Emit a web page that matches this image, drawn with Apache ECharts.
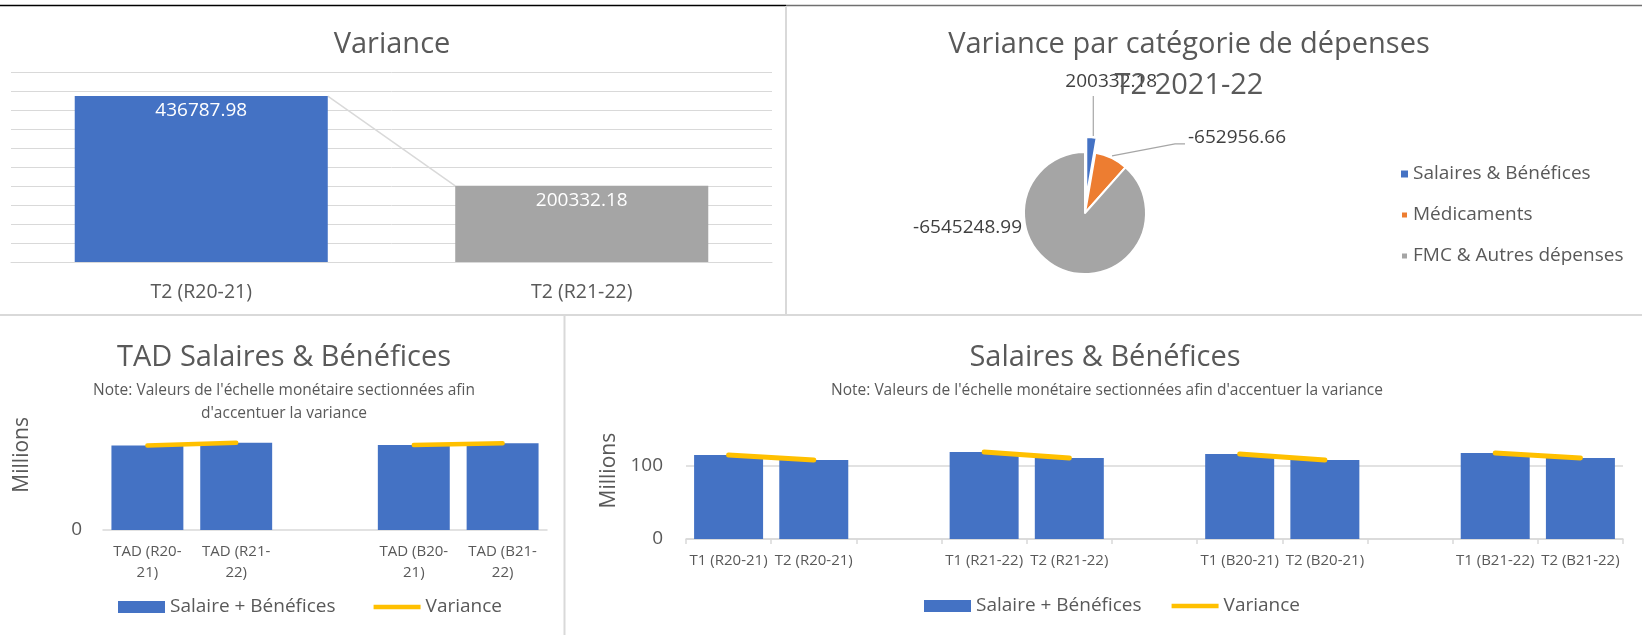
<!DOCTYPE html>
<html>
<head>
<meta charset="utf-8">
<script src="https://cdn.jsdelivr.net/npm/echarts@6/dist/echarts.min.js"></script>
<style>
  html, body { margin: 0; padding: 0; background: #fff; }
  #dash { width: 1642px; height: 635px; }
</style>
</head>
<body>
<div id="dash"></div>
<script>
// ---- Variance, T2 ----
const varianceCats = ['T2 (R20-21)', 'T2 (R21-22)'];
const varianceValues = [436787.98, 200332.18];
const varianceColors = ['#4472C4', '#A5A5A5'];

// ---- Variance by spending category, T2 2021-22 ----
const pieCats = ['Salaires & Bénéfices', 'Médicaments', 'FMC & Autres dépenses'];
const pieValues = [200332.18, -652956.66, -6545248.99];
const pieColors = ['#4472C4', '#ED7D31', '#A5A5A5'];

// ---- Year-to-date salaries & benefits (blank category splits actual / budget) ----
const tadCats = ['TAD (R20-21)', 'TAD (R21-22)', '', 'TAD (B20-21)', 'TAD (B21-22)'];
const tadSalaries = [223.3e6, 230.2e6, null, 224.6e6, 228.8e6];
const tadVariance = [223.3e6, 230.2e6, null, 224.6e6, 228.8e6];

// ---- Quarterly salaries & benefits ----
const quarterCats = ['T1 (R20-21)', 'T2 (R20-21)', '', 'T1 (R21-22)', 'T2 (R21-22)', '',
                     'T1 (B20-21)', 'T2 (B20-21)', '', 'T1 (B21-22)', 'T2 (B21-22)'];
const quarterSalaries = [115.1e6, 108.2e6, null, 119.2e6, 111.0e6, null, 116.4e6, 108.2e6, null, 117.8e6, 111.0e6];
const quarterVariance = [115.1e6, 108.2e6, null, 119.2e6, 111.0e6, null, 116.4e6, 108.2e6, null, 117.8e6, 111.0e6];

const FONT = "'Open Sans', sans-serif";
const TEXT = '#595959';
const RULE = '#d9d9d9';
const BLUE = '#4472C4';
const GOLD = '#FFC000';
const VAR_BAR_RATIO = 0.665;

// pie geometry: slices sized by magnitude, first slice pulled out of the pie
const PIE_CENTER = [1085, 213];
const PIE_RADIUS = 61;
const PIE_EXPLODE = 15;
const pieSizes = pieValues.map(v => Math.abs(v));
const pieTotal = pieSizes.reduce((a, b) => a + b, 0);
const firstMid = Math.PI * pieSizes[0] / pieTotal;   // clockwise from 12 o'clock
const explodedCenter = [PIE_CENTER[0] + PIE_EXPLODE * Math.sin(firstMid),
                        PIE_CENTER[1] - PIE_EXPLODE * Math.cos(firstMid)];

const HIDDEN = { color: 'transparent', borderWidth: 0 };

function heading(text, cx, cy, size, lineHeight) {
  return {
    text: text, left: cx, top: cy, textAlign: 'center', textVerticalAlign: 'middle', padding: 0,
    textStyle: { fontFamily: FONT, fontSize: size, lineHeight: lineHeight, fontWeight: 'normal', color: TEXT }
  };
}

const millions = v => String(Math.round(v / 1e6));
const legendLine = 'path://M0,0H100V10H0Z';

function pieSeries(shown, center, layout) {
  return {
    type: 'pie', name: 'Variance par catégorie', center: center, radius: PIE_RADIUS,
    startAngle: 90, clockwise: true, avoidLabelOverlap: false,
    itemStyle: { borderColor: '#fff', borderWidth: 2 },
    emphasis: { scale: false },
    data: pieCats.map((n, i) => {
      const on = shown.indexOf(i) >= 0;
      return {
        name: n, value: pieSizes[i],
        itemStyle: on ? { color: pieColors[i] } : HIDDEN,
        label: { show: on },
        labelLine: { show: on && i !== 2 }
      };
    }),
    label: {
      show: true, position: 'outside', fontFamily: FONT, fontSize: 19, color: '#404040',
      formatter: p => String(pieValues[p.dataIndex])
    },
    labelLine: { show: true, length: 20, length2: 20, lineStyle: { color: '#a6a6a6', width: 1.2 } },
    labelLayout: layout
  };
}

const chart = echarts.init(document.getElementById('dash'), null, { renderer: 'canvas' });

chart.setOption({
  animation: false,
  textStyle: { fontFamily: FONT },
  title: [
    heading('Variance', 392, 45, 29, 34),
    heading('Variance par catégorie de dépenses\nT2 2021-22', 1189, 65, 29, 41),
    heading('TAD Salaires & Bénéfices', 284, 358, 29, 34),
    heading("Note: Valeurs de l'échelle monétaire sectionnées afin\nd'accentuer la variance", 284, 402, 15.5, 23),
    heading('Salaires & Bénéfices', 1105, 358, 29, 34),
    heading("Note: Valeurs de l'échelle monétaire sectionnées afin d'accentuer la variance", 1107, 391, 15.5, 23)
  ],
  legend: [
    {
      data: pieCats.map((n, i) => ({ name: n, itemStyle: { color: pieColors[i] } })),
      orient: 'vertical', left: 1400, top: 163, padding: 0,
      icon: 'rect', itemWidth: 7, itemHeight: 7, itemGap: 19,
      textStyle: { fontFamily: FONT, fontSize: 19, lineHeight: 22, color: TEXT }
    },
    {
      data: [{ name: 'Salaire + Bénéfices', icon: 'rect' }, { name: 'Variance', icon: legendLine }],
      left: 118, top: 596, padding: 0, itemWidth: 47, itemHeight: 12, itemGap: 38,
      textStyle: { fontFamily: FONT, fontSize: 19, lineHeight: 22, color: TEXT }
    },
    {
      data: [{ name: 'Salaire + Bénéfices', icon: 'rect' }, { name: 'Variance', icon: legendLine }],
      left: 924, top: 595, padding: 0, itemWidth: 47, itemHeight: 12, itemGap: 30,
      textStyle: { fontFamily: FONT, fontSize: 19, lineHeight: 22, color: TEXT }
    }
  ],
  grid: [
    { left: 11, top: 72, width: 761, height: 190, outerBoundsMode: 'none' },
    { left: 103, top: 393.7, width: 444, height: 136.3, outerBoundsMode: 'none' },
    { left: 686, top: 411.25, width: 937, height: 127.75, outerBoundsMode: 'none' }
  ],
  xAxis: [
    {
      gridIndex: 0, type: 'category', data: varianceCats,
      axisLine: { lineStyle: { color: RULE, width: 1 } }, axisTick: { show: false },
      axisLabel: { interval: 0, margin: 18, fontFamily: FONT, fontSize: 19.5, lineHeight: 24, color: TEXT }
    },
    {
      gridIndex: 1, type: 'category', data: tadCats,
      axisLine: { lineStyle: { color: RULE, width: 1.5 } }, axisTick: { show: false },
      axisLabel: {
        interval: 0, margin: 11, fontFamily: FONT, fontSize: 15, lineHeight: 21, color: TEXT,
        formatter: v => v.replace('-', '-\n')
      }
    },
    {
      gridIndex: 2, type: 'category', data: quarterCats,
      axisLine: { lineStyle: { color: RULE, width: 1.5 } },
      axisTick: { show: true, interval: 0, length: 5, lineStyle: { color: RULE, width: 1.5 } },
      axisLabel: { interval: 0, margin: 13, fontFamily: FONT, fontSize: 15, lineHeight: 18, color: TEXT }
    }
  ],
  yAxis: [
    {
      gridIndex: 0, type: 'value', min: 0, max: 500000, interval: 50000,
      axisLabel: { show: false }, axisLine: { show: false }, axisTick: { show: false },
      splitLine: { lineStyle: { color: RULE, width: 1 } }
    },
    {
      gridIndex: 1, type: 'value', min: 0, max: 360e6, interval: 360e6,
      name: 'Millions', nameLocation: 'middle', nameRotate: 90, nameGap: 70,
      nameTextStyle: { fontFamily: FONT, fontSize: 21, color: TEXT, padding: [0, 0, 0, 14] },
      axisLine: { show: false }, axisTick: { show: false }, splitLine: { show: false },
      axisLabel: { margin: 21, showMaxLabel: false, fontFamily: FONT, fontSize: 19, color: TEXT, formatter: millions }
    },
    {
      gridIndex: 2, type: 'value', min: 0, max: 175e6, interval: 100e6,
      name: 'Millions', nameLocation: 'middle', nameRotate: 90, nameGap: 65,
      nameTextStyle: { fontFamily: FONT, fontSize: 21, color: TEXT, padding: [0, 0, 0, 9] },
      axisLine: { show: false }, axisTick: { show: false },
      splitLine: { showMaxLine: false, lineStyle: { color: RULE, width: 1.5 } },
      axisLabel: { margin: 23, showMaxLabel: false, fontFamily: FONT, fontSize: 19, color: TEXT, formatter: millions }
    }
  ],
  graphic: [
    { type: 'line', silent: true, shape: { x1: 0, y1: 5.5, x2: 786, y2: 5.5 }, style: { stroke: '#000', lineWidth: 1.5 } },
    { type: 'line', silent: true, shape: { x1: 786, y1: 5.5, x2: 1642, y2: 5.5 }, style: { stroke: '#707070', lineWidth: 1.5 } },
    { type: 'line', silent: true, shape: { x1: 786, y1: 6, x2: 786, y2: 315 }, style: { stroke: RULE, lineWidth: 2 } },
    { type: 'line', silent: true, shape: { x1: 0, y1: 315, x2: 1642, y2: 315 }, style: { stroke: RULE, lineWidth: 2 } },
    { type: 'line', silent: true, shape: { x1: 564.5, y1: 315, x2: 564.5, y2: 635 }, style: { stroke: RULE, lineWidth: 2 } }
  ],
  series: [
    // connector between neighbouring variance bars (top corner to top corner)
    {
      type: 'custom', xAxisIndex: 0, yAxisIndex: 0, silent: true, z: 1,
      data: varianceValues.slice(0, -1).map((v, i) => [i, v, varianceValues[i + 1]]),
      renderItem: function (params, api) {
        const i = api.value(0);
        const a = api.coord([i, api.value(1)]);
        const b = api.coord([i + 1, api.value(2)]);
        const half = api.size([1, 0])[0] * VAR_BAR_RATIO / 2;
        return {
          type: 'line',
          shape: { x1: a[0] + half, y1: a[1], x2: b[0] - half, y2: b[1] },
          style: { stroke: RULE, lineWidth: 1.5 }
        };
      }
    },
    {
      type: 'bar', name: 'Variance T2', xAxisIndex: 0, yAxisIndex: 0, barWidth: (VAR_BAR_RATIO * 100) + '%', z: 2,
      data: varianceValues.map((v, i) => ({ value: v, itemStyle: { color: varianceColors[i] } })),
      label: {
        show: true, position: 'insideTop', distance: 5, color: '#fff',
        fontFamily: FONT, fontSize: 19, formatter: p => p.value.toFixed(2)
      }
    },
    // pie body: every slice except the pulled-out first one
    pieSeries([1, 2], PIE_CENTER, function (p) {
      const r = p.rect;
      if (p.dataIndex === 1) {
        const sx = r.x + r.width * 0.66, sy = r.y + 4;
        return {
          x: sx + 76, y: r.y - 14, align: 'left', verticalAlign: 'middle',
          labelLinePoints: [[sx, sy], [sx + 63, r.y - 8], [sx + 73, r.y - 8]]
        };
      }
      return { x: r.x - 1, y: r.y + r.height * 0.62, align: 'right', verticalAlign: 'middle' };
    }),
    // pulled-out first slice
    pieSeries([0], explodedCenter, function (p) {
      const r = p.rect;
      const lx = r.x + r.width * 0.65;
      return {
        x: lx + 18, y: r.y - 54, align: 'center', verticalAlign: 'middle',
        labelLinePoints: [[lx, r.y], [lx, r.y - 20], [lx, r.y - 40]]
      };
    }),
    {
      type: 'bar', name: 'Salaire + Bénéfices', xAxisIndex: 1, yAxisIndex: 1, barWidth: '81%',
      itemStyle: { color: BLUE }, data: tadSalaries
    },
    {
      type: 'line', name: 'Variance', xAxisIndex: 1, yAxisIndex: 1, symbol: 'none', connectNulls: false, z: 3,
      lineStyle: { color: GOLD, width: 4.5, cap: 'round' }, itemStyle: { color: GOLD }, data: tadVariance
    },
    {
      type: 'bar', name: 'Salaire + Bénéfices', xAxisIndex: 2, yAxisIndex: 2, barWidth: '81%',
      itemStyle: { color: BLUE }, data: quarterSalaries
    },
    {
      type: 'line', name: 'Variance', xAxisIndex: 2, yAxisIndex: 2, symbol: 'none', connectNulls: false, z: 3,
      lineStyle: { color: GOLD, width: 5, cap: 'round' }, itemStyle: { color: GOLD }, data: quarterVariance
    }
  ]
});
</script>
</body>
</html>
